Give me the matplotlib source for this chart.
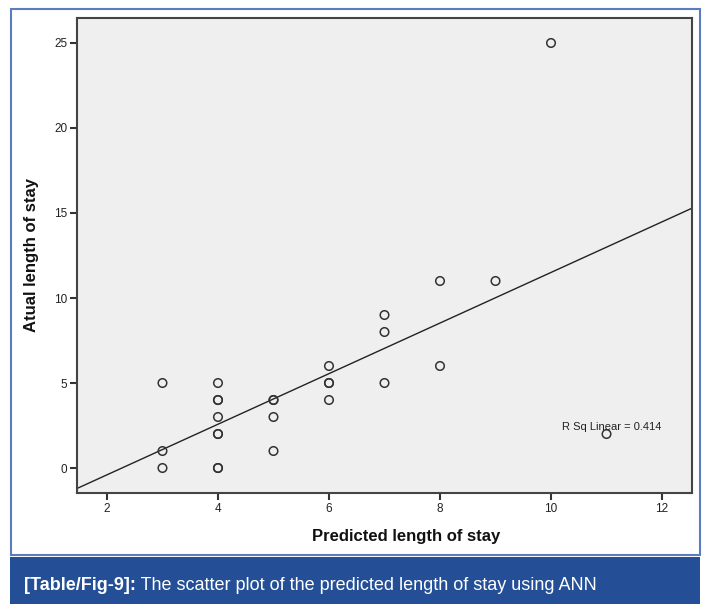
import numpy as np
import matplotlib
matplotlib.use("Agg")
import matplotlib.pyplot as plt
from matplotlib.patches import Rectangle

# Data (duplicated points appear as darker circles in the reference)
predicted = [3, 3, 3,
             4, 4, 4, 4, 4, 4, 4, 4,
             5, 5, 5, 5,
             6, 6, 6, 6,
             7, 7, 7,
             8, 8,
             9, 10, 11]
actual = [5, 1, 0,
          5, 4, 4, 3, 2, 2, 0, 0,
          4, 4, 3, 1,
          6, 5, 5, 4,
          9, 8, 5,
          11, 6,
          11, 25, 2]
x_ticks = [2, 4, 6, 8, 10, 12]
y_ticks = [0, 5, 10, 15, 20, 25]
r2_label = "R Sq Linear = 0.414"
x_label = "Predicted length of stay"
y_label = "Atual length of stay"
caption_bold = "[Table/Fig-9]:"
caption_rest = " The scatter plot of the predicted length of stay using ANN"

plt.rcParams["font.family"] = ["Liberation Sans", "DejaVu Sans"]

W, H = 707, 604
fig = plt.figure(figsize=(W / 100, H / 100), dpi=100)
fig.patch.set_facecolor("white")

# Outer blue frame
fig.patches.append(Rectangle((10.5 / W, 1 - 555 / H), 689 / W, 546 / H,
                             transform=fig.transFigure, fill=False,
                             edgecolor="#5b7dbf", linewidth=1.5))
# Caption bar
fig.patches.append(Rectangle((10 / W, 0), 690 / W, 47 / H,
                             transform=fig.transFigure, facecolor="#244f96",
                             edgecolor="none"))

ax = fig.add_axes([77 / W, 1 - 493 / H, 615 / W, 475 / H])
ax.set_facecolor("#eeefee")

x = np.array(predicted, dtype=float)
y = np.array(actual, dtype=float)
ax.scatter(x, y, s=38, facecolors="none", edgecolors="#333333", linewidths=1.1, zorder=3)

xlim = (1.46, 12.54)
ylim = (-1.47, 26.47)
slope, intercept = np.polyfit(x, y, 1)
xx = np.array(xlim)
ax.plot(xx, slope * xx + intercept, color="#222222", linewidth=1.0, zorder=2)

ax.set_xlim(*xlim)
ax.set_ylim(*ylim)
ax.set_xticks(x_ticks)
ax.set_yticks(y_ticks)
ax.tick_params(direction="out", length=5, width=1.5, color="#333333",
               labelsize=8.5, labelcolor="#222222", pad=2)
for s in ax.spines.values():
    s.set_color("#444444")
    s.set_linewidth(1.5)

ax.text(11.1, 2.4, r2_label, ha="center", va="center", fontsize=8,
        color="#222222", zorder=4)

fig.text(406 / W, 1 - 537 / H, x_label, ha="center", va="center",
         fontsize=12, fontweight="bold", color="#111111")
fig.text(32 / W, 1 - 255 / H, y_label, ha="center", va="center", rotation=90,
         fontsize=12, fontweight="bold", color="#111111")

t1 = fig.text(24 / W, 1 - 585 / H, caption_bold, ha="left", va="center",
              fontsize=13, fontweight="bold", color="white")
fig.canvas.draw()
bb = t1.get_window_extent()
fig.text(bb.x1 / W, 1 - 585 / H, caption_rest, ha="left", va="center",
         fontsize=13, color="white")

fig.savefig("out.png", dpi=100)
